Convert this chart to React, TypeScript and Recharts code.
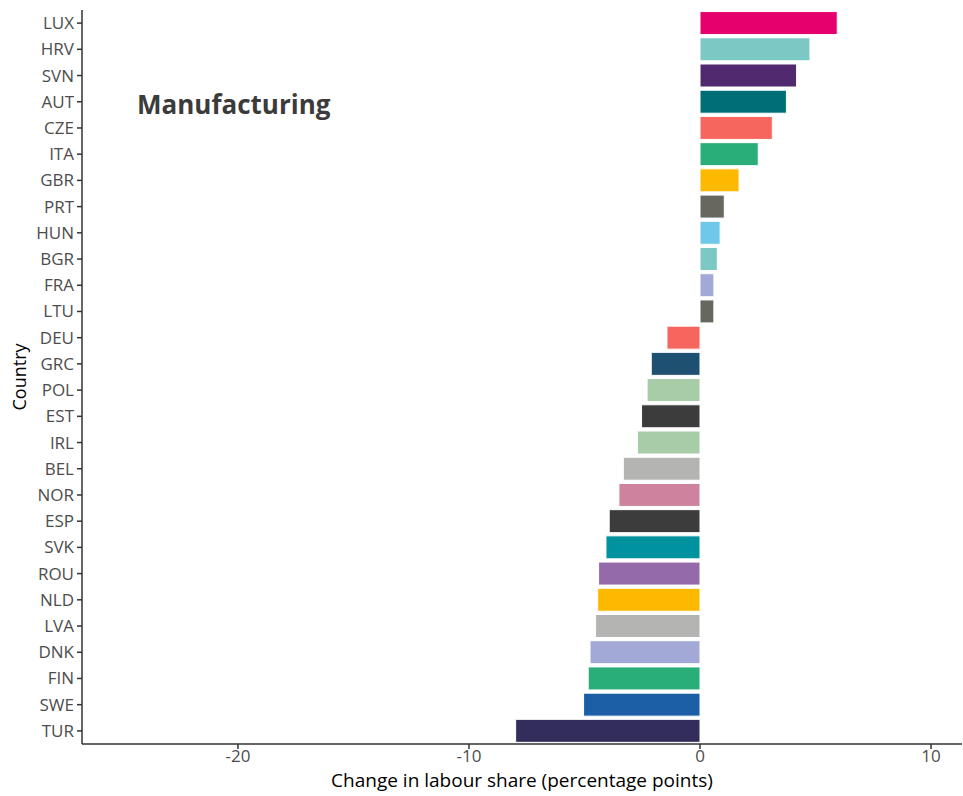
import React from 'react'
import { BarChart, Bar, XAxis, YAxis, Cell, Label } from 'recharts'

const countries = ['LUX', 'HRV', 'SVN', 'AUT', 'CZE', 'ITA', 'GBR', 'PRT', 'HUN', 'BGR', 'FRA', 'LTU', 'DEU', 'GRC', 'POL', 'EST', 'IRL', 'BEL', 'NOR', 'ESP', 'SVK', 'ROU', 'NLD', 'LVA', 'DNK', 'FIN', 'SWE', 'TUR']
const changes = [5.94, 4.76, 4.18, 3.74, 3.13, 2.52, 1.69, 1.05, 0.87, 0.75, 0.6, 0.6, -1.43, -2.11, -2.29, -2.53, -2.71, -3.32, -3.51, -3.93, -4.07, -4.39, -4.43, -4.52, -4.76, -4.84, -5.04, -7.98]
const colors = ['#E6006E', '#7CC8C4', '#51296E', '#006E75', '#F7665E', '#2AAE79', '#FDB900', '#676760', '#6FC8EA', '#7CC8C4', '#A2A9D7', '#676760', '#F7665E', '#1D5071', '#A8CBA8', '#3C3C3C', '#A8CBA8', '#B4B4B2', '#CE829E', '#3C3C3C', '#00929E', '#956AAA', '#FDB900', '#B4B4B2', '#A2A9D7', '#2AAE79', '#1C5FA6', '#322D5B']
const xTicks = [-20, -10, 0, 10]

const data = countries.map((c, i) => ({ country: c, value: changes[i], color: colors[i] }))

const font = '"Open Sans", sans-serif'

export default function App() {
    return (
        <div style={{ position: 'absolute', left: 0, top: 0, width: 963, height: 796, background: '#fff', fontFamily: font }}>
            <BarChart
                width={963}
                height={796}
                data={data}
                layout="vertical"
                margin={{ top: 10, right: 1, bottom: 0, left: 0 }}
                barCategoryGap="6%"
            >
                <XAxis
                    type="number"
                    domain={[-26.75, 11.34]}
                    ticks={xTicks}
                    allowDataOverflow
                    height={52}
                    tickSize={5}
                    tickMargin={1}
                    stroke="#333"
                    strokeWidth={1.5}
                    tick={{ fill: '#4d4d4d', fontSize: 17, fontFamily: font }}
                >
                    <Label value="Change in labour share (percentage points)" position="insideBottom" offset={9} style={{ fill: '#000', fontSize: 19, fontFamily: font }} />
                </XAxis>
                <YAxis
                    type="category"
                    dataKey="country"
                    width={82}
                    tickSize={5}
                    tickMargin={3}
                    interval={0}
                    stroke="#333"
                    strokeWidth={1.5}
                    tick={{ fill: '#4d4d4d', fontSize: 17, fontFamily: font }}
                >
                    <Label value="Country" angle={-90} position="insideLeft" offset={20} style={{ fill: '#000', fontSize: 18, fontFamily: font, textAnchor: 'middle' }} />
                </YAxis>
                <Bar dataKey="value" isAnimationActive={false} stroke="#fff" strokeWidth={1}>
                    {data.map((d, i) => (
                        <Cell key={`cell-${i}`} fill={d.color} />
                    ))}
                </Bar>
            </BarChart>
            <div style={{ position: 'absolute', left: 137, top: 86, fontSize: 26, fontWeight: 700, color: '#3b3b3b', fontFamily: font, lineHeight: '36px' }}>
                Manufacturing
            </div>
        </div>
    )
}
